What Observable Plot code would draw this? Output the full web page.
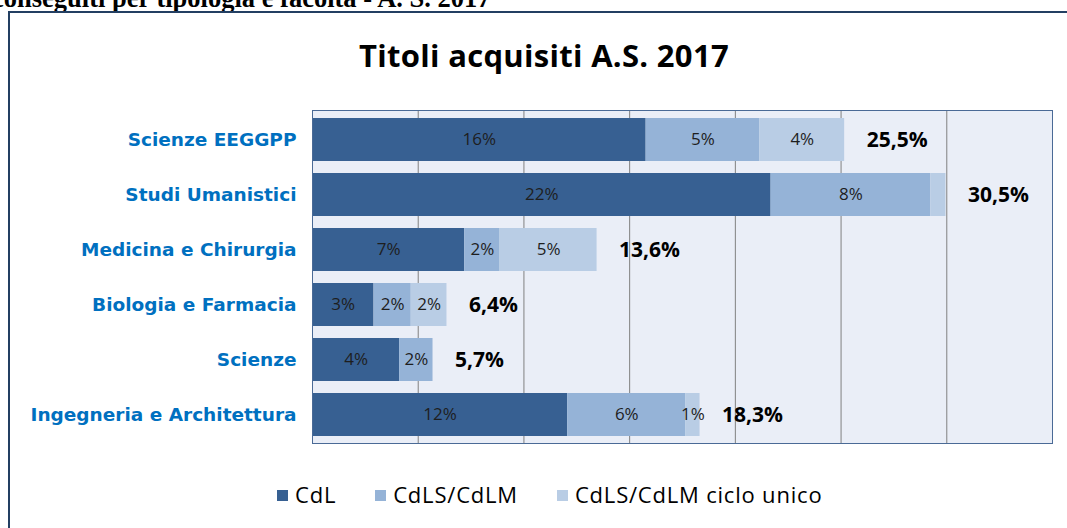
<!DOCTYPE html>
<html><head><meta charset="utf-8">
<script src="https://cdn.jsdelivr.net/npm/d3@7"></script>
<script src="https://cdn.jsdelivr.net/npm/@observablehq/plot@0.6"></script>
<style>
body{margin:0;background:#fff;width:1067px;height:528px;overflow:hidden;position:relative;font-family:"Open Sans",sans-serif}
#top{position:absolute;left:-8px;top:-17px;font:bold 26.5px "Liberation Serif",serif;white-space:nowrap;color:#000}
#frame{position:absolute;left:8px;top:11px;width:1090px;height:560px;border:2px solid #233f62;box-sizing:border-box}
#title{position:absolute;left:0;width:1088px;top:34px;text-align:center;font:bold 31px "Open Sans",sans-serif;letter-spacing:0.3px;color:#000}
#chart{position:absolute;left:0;top:100px}
#legend{position:absolute;top:479px;left:277px;display:flex;align-items:center;font:22px "Open Sans",sans-serif;letter-spacing:0.8px;color:#000;white-space:nowrap}
.sw{display:inline-block;width:11px;height:11px;margin-right:7px;margin-top:2px}
.item{display:flex;align-items:center;margin-right:39px}
</style>
</head><body>
<div id="top">conseguiti per tipologia e facoltà - A. S. 2017</div>
<div id="frame"></div>
<div id="title">Titoli acquisiti A.S. 2017</div>
<div id="chart"></div>
<div id="legend"></div>
<script>
const categories = ["Scienze EEGGPP","Studi Umanistici","Medicina e Chirurgia","Biologia e Farmacia","Scienze","Ingegneria e Architettura"];
const series = ["CdL","CdLS/CdLM","CdLS/CdLM ciclo unico"];
const cdl = [15.78,21.69,7.2,2.91,4.12,12.07];
const cdls = [5.38,7.55,1.67,1.76,1.58,5.59];
const cicloUnico = [4.01,0.72,4.59,1.69,0,0.67];
const totals = [25.5,30.5,13.6,6.4,5.7,18.3];
const gridTicks = [0,5,10,15,20,25,30,35];
const colors = ["#376092","#95b3d7","#b9cde5"];
const hiddenLabels = [["Studi Umanistici","CdLS/CdLM ciclo unico"]];

const seriesValues = [cdl, cdls, cicloUnico];
const rows = [];
categories.forEach((c,i)=>{
  series.forEach((s,j)=>{
    rows.push({cat:c, serie:s, value:seriesValues[j][i]});
  });
});
const isHidden = d => d.value <= 0 || hiddenLabels.some(h=>h[0]===d.cat && h[1]===d.serie);
const totalRows = categories.map((c,i)=>({cat:c, end:cdl[i]+cdls[i]+cicloUnico[i], total:totals[i]}));
const fmt = v => v.toFixed(1).replace(".", ",") + "%";

const chart = Plot.plot({
  width:1067, height:353,
  marginLeft:312, marginRight:15, marginTop:10, marginBottom:10,
  x:{domain:[0,35], axis:null},
  y:{domain:categories, paddingInner:0.22, paddingOuter:0.11, label:null},
  color:{domain:series, range:colors},
  style:{background:"transparent"},
  marks:[
    Plot.frame({fill:"#eaeef7", stroke:null}),
    Plot.gridX(gridTicks, {stroke:"#808080", strokeOpacity:1, strokeWidth:1}),
    Plot.barX(rows, Plot.stackX({x:"value", y:"cat", fill:"serie", order:null})),
    Plot.text(rows, Plot.stackX({x:"value", y:"cat", z:"serie", order:null,
      text:d=> isHidden(d) ? "" : Math.round(d.value)+"%",
      fill:"#1e1e1e", fontSize:17, fontFamily:"Open Sans"})),
    Plot.text(totalRows, {x:"end", y:"cat", text:d=>fmt(d.total), dx:22, textAnchor:"start",
      fontWeight:"bold", fontSize:21, fontFamily:"Open Sans", fill:"#000"}),
    Plot.frame({stroke:"#4a6a96", strokeWidth:1}),
    Plot.axisY({tickSize:0, tickPadding:16, fontSize:18.5, fontWeight:"bold", fill:"#0070c0",
      fontFamily:"DejaVu Sans", label:null})
  ]
});
document.getElementById("chart").appendChild(chart);

const legend = document.getElementById("legend");
series.forEach((s,j)=>{
  const it = document.createElement("div"); it.className="item";
  const sw = document.createElement("span"); sw.className="sw"; sw.style.background=colors[j];
  const t = document.createElement("span"); t.textContent=s;
  it.appendChild(sw); it.appendChild(t); legend.appendChild(it);
});
</script>
</body></html>
